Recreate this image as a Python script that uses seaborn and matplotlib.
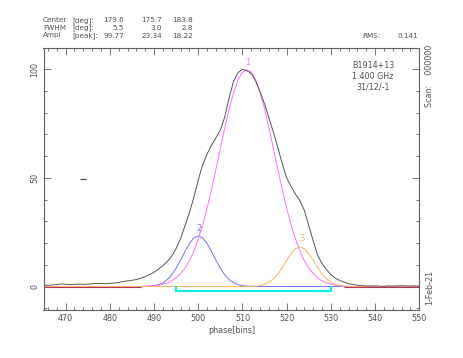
import numpy as np
import matplotlib
matplotlib.use('Agg')
import matplotlib.pyplot as plt
import seaborn as sns
from matplotlib.ticker import MultipleLocator

# pulse phase bins
phase = np.arange(465, 551)

# observed profile (gray)
profile = [
    0.5, 0.6, 0.7, 0.9, 1.2, 1.0, 0.9, 1.0, 1.1, 1.0,
    1.1, 1.3, 1.4, 1.4, 1.3, 1.4, 1.6, 1.9, 2.3, 2.6,
    2.9, 3.2, 3.8, 4.6, 5.5, 6.6, 8.0, 9.6, 11.5, 14.0,
    17.5, 22.0, 28.0, 34.0, 41.0, 49.0, 56.0, 61.0, 65.0, 68.5,
    72.0, 78.0, 87.0, 94.5, 98.5, 100.0, 99.3, 98.0, 94.5, 89.5,
    84.0, 77.5, 71.0, 64.0, 56.5, 50.0, 46.0, 42.5, 39.5, 35.0,
    28.0, 21.0, 14.5, 10.5, 7.8, 5.5, 3.8, 2.8, 2.0, 1.3,
    0.9, 0.6, 0.4, 0.3, 0.2, 0.3, 0.2, 0.1, 0.3, 0.2,
    0.3, 0.4, 0.3, 0.2, 0.3, 0.2,
]

# fitted components
comp1 = [0.0] * 23 + [
    0.1, 0.2, 0.4, 0.6, 1.1, 1.7, 2.6, 4.0, 5.9, 8.5,
    11.9, 16.3, 21.8, 28.4, 36.0, 44.7, 53.9, 63.5, 73.0, 81.7,
    89.3, 95.1, 98.7, 99.8, 98.7, 95.1, 89.3, 81.7, 73.0, 63.5,
    53.9, 44.7, 36.0, 28.4, 21.8, 16.3, 11.9, 8.5, 5.9, 4.0,
    2.6, 1.7, 1.1, 0.6, 0.4, 0.2, 0.1,
] + [0.0] * 16
comp2 = [0.0] * 23 + [
    0.1, 0.2, 0.4, 0.9, 1.7, 3.2, 5.4, 8.4, 12.1, 16.1,
    19.8, 22.4, 23.3, 22.4, 19.8, 16.1, 12.1, 8.4, 5.4, 3.2,
    1.7, 0.9, 0.4, 0.2, 0.1,
] + [0.0] * 38
comp3 = [0.0] * 47 + [
    0.1, 0.2, 0.4, 1.0, 1.9, 3.5, 5.8, 8.7, 12.0, 15.2,
    17.4, 18.2, 17.4, 15.2, 12.0, 8.7, 5.8, 3.5, 1.9, 1.0,
    0.4, 0.2, 0.1,
] + [0.0] * 16

comp_labels = ['1', '2', '3']
comp_label_x = [511.3, 500.2, 523.5]
comp_label_y = [103.3, 26.8, 22.3]

# on-pulse window and off-pulse baseline windows
onpulse = [495, 530]
offpulse = [(465, 487), (533, 550)]
rms_x, rms_y = 474.0, 49.7

centers = ['179.6', '175.7', '183.8']
fwhms = ['5.5', '3.0', '2.8']
ampls = ['99.77', '23.34', '18.22']
rms = '0.141'
source = ['B1914+13', '1.400 GHz', '31/12/-1']

def main():
    sns.set_style('ticks')
    plt.rcParams['font.family'] = ['DejaVu Sans']
    plt.rcParams['font.size'] = 5.8
    tc = '#505050'
    hs = 5.2  # header font size

    W, H = 463, 358
    fig = plt.figure(figsize=(W / 100, H / 100), dpi=100)
    ax = fig.add_axes([43.5 / W, 1 - 310 / H, (419.3 - 43.5) / W, (310 - 47.5) / H])

    for lo, hi in offpulse:
        ax.hlines(0, lo, hi, color='#b03060', lw=0.8, zorder=1)
    sns.lineplot(x=phase, y=comp2, color='#7070ff', lw=0.7, ax=ax, zorder=2)
    sns.lineplot(x=phase, y=comp1, color='#ff70ff', lw=0.7, ax=ax, zorder=2)
    sns.lineplot(x=phase, y=profile, color='#555555', lw=0.7, ax=ax, zorder=3)
    sns.lineplot(x=phase, y=comp3, color='#ffb060', lw=0.7, ax=ax, zorder=2)
    ax.plot([onpulse[0], onpulse[0], onpulse[1], onpulse[1]], [0, -1.9, -1.9, 0],
            color='#00f0f0', lw=1.5, zorder=4)
    ax.plot([rms_x], [rms_y], marker='_', ms=5, mew=0.9, color=tc)

    for lab, x, y, c in zip(comp_labels, comp_label_x, comp_label_y,
                            ['#ff70ff', '#7070ff', '#ffb060']):
        ax.text(x, y, lab, color=c, ha='center', va='center', fontsize=6)
    for i, s in enumerate(source):
        ax.text(539.5, 101.5 - 4.8 * i, s, color=tc, ha='center', va='center')

    ax.set_xlim(465, 550)
    ax.set_ylim(-10.8, 110)
    ax.xaxis.set_major_locator(MultipleLocator(10))
    ax.xaxis.set_minor_locator(MultipleLocator(2))
    ax.yaxis.set_major_locator(MultipleLocator(50))
    ax.yaxis.set_minor_locator(MultipleLocator(10))
    ax.set_xticks([470, 480, 490, 500, 510, 520, 530, 540, 550])
    ax.set_yticks([0, 50, 100])
    ax.set_yticklabels(['0', '50', '100'], rotation=90, va='center')
    ax.tick_params(which='both', direction='in', top=True, right=True,
                   color='#606060', width=0.6, labelcolor=tc, labelsize=5.8)
    ax.tick_params(which='major', length=5, pad=3)
    ax.tick_params(which='minor', length=2.5)
    for sp in ax.spines.values():
        sp.set_visible(True)
        sp.set_color('#606060')
        sp.set_linewidth(0.8)
    ax.set_xlabel('phase[bins]', color=tc, fontsize=5.8, labelpad=2)
    ax.set_ylabel('')

    # header block
    rows = [('Center', '[deg]:', centers, 20.5), ('FWHM', '[deg]:', fwhms, 28),
            ('Ampl', '[peak]:', ampls, 35.5)]
    for name, unit, vals, y in rows:
        fig.text(43 / W, 1 - y / H, name, color=tc, va='center', ha='left', fontsize=hs)
        fig.text(72 / W, 1 - y / H, unit, color=tc, va='center', ha='left', fontsize=hs)
        for v, xr in zip(vals, [124, 162, 193]):
            fig.text(xr / W, 1 - y / H, v, color=tc, va='center', ha='right', fontsize=hs)
    fig.text(362 / W, 1 - 35.5 / H, 'RMS:', color=tc, va='center', ha='left', fontsize=hs)
    fig.text(418 / W, 1 - 35.5 / H, rms, color=tc, va='center', ha='right', fontsize=hs)

    fig.text(430 / W, 1 - 107 / H, 'Scan:    000000', color=tc, rotation=90,
             ha='center', va='bottom')
    fig.text(430 / W, 1 - 305 / H, '1-Feb-21', color=tc, rotation=90,
             ha='center', va='bottom')

    fig.savefig('out.png', dpi=100)
    plt.close(fig)

if __name__ == '__main__':
    main()
